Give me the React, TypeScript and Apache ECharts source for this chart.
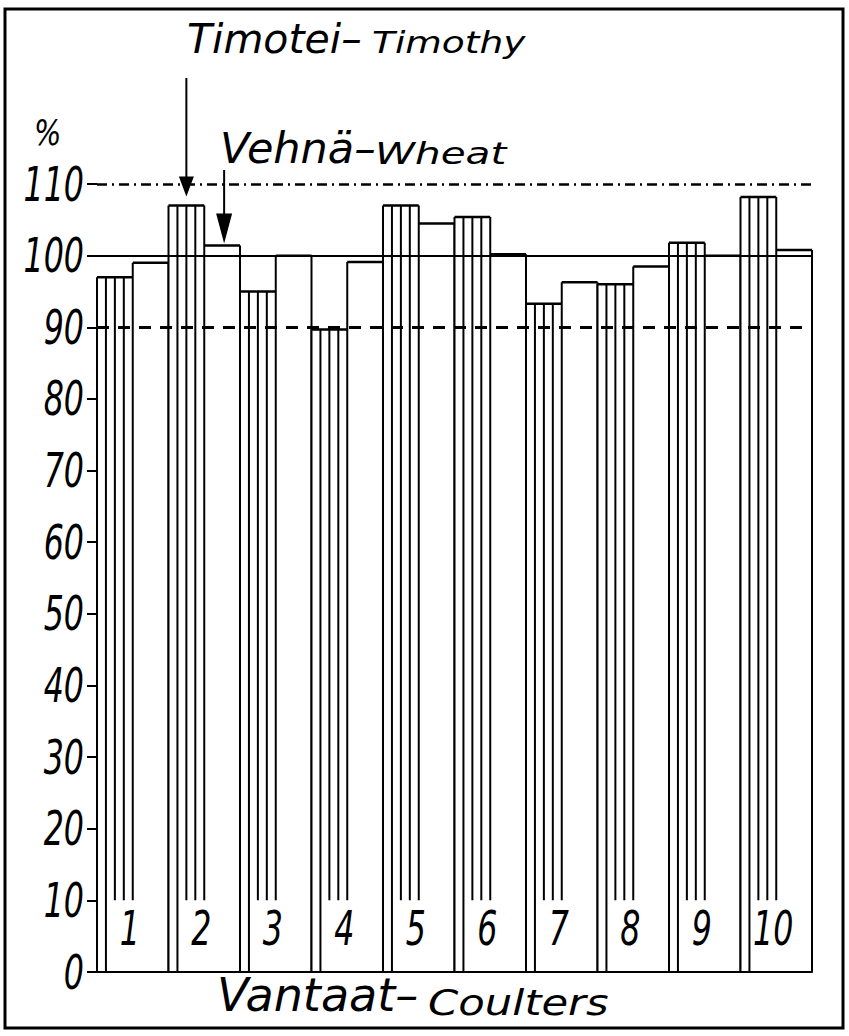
import React, { useEffect, useRef } from "react";
import * as echarts from "echarts";

// ---- data ----
const coulters = ["1", "2", "3", "4", "5", "6", "7", "8", "9", "10"];
const timothy = [97, 107, 95, 89.7, 107, 105.4, 93.3, 96, 101.8, 108.2];
const wheat = [99, 101.4, 100, 99.1, 104.5, 100.2, 96.3, 98.5, 100, 100.8];
const yMin = 0;
const yMax = 110;
const yInterval = 10;
const yTickValues = [0, 10, 20, 30, 40, 50, 60, 70, 80, 90, 100, 110];
const referenceLevels = [110, 100, 90];
const hatchFloor = 10; // hatch lines of the Timothy bars stop at this level
const categoryLabelLevel = 6.1; // coulter numbers sit inside the bars at this level
const annotatedIndex = 1; // coulter "2" carries the two arrows

const FONT = "'DejaVu Sans', 'Liberation Sans', sans-serif";

export default function App() {
  const ref = useRef<HTMLDivElement>(null);

  useEffect(() => {
    if (!ref.current) return;
    const chart = echarts.init(ref.current, undefined, { renderer: "svg" });

    const seriesData = coulters.map((c, i) => [i, timothy[i], wheat[i]]);

    const renderItem = (params: any, api: any) => {
      const i = api.value(0);
      const t = api.value(1);
      const w = api.value(2);
      const base = api.coord([i, 0]);
      const catW = api.size([1, 0])[0];
      const bw = catW / 2;
      const xL = base[0] - catW / 2;
      const xM = xL + bw;
      const xR = xL + catW;
      const y0 = base[1];
      const yT = api.coord([i, t])[1];
      const yW = api.coord([i, w])[1];
      const yF = api.coord([i, hatchFloor])[1];
      const stroke = { stroke: "#000", lineWidth: 2 };
      const children: any[] = [];

      children.push({ type: "rect", shape: { x: xL, y: yT, width: bw, height: y0 - yT }, style: { fill: "#fff" } });
      children.push({ type: "rect", shape: { x: xM, y: yW, width: bw, height: y0 - yW }, style: { fill: "#fff" } });

      for (let k = 0; k <= 4; k++) {
        const x = xL + (k * bw) / 4;
        const yStart = k === 4 ? Math.min(yT, yW) : yT;
        const yEnd = k < 2 ? y0 : yF;
        children.push({ type: "line", shape: { x1: x, y1: yStart, x2: x, y2: yEnd }, style: stroke });
      }
      children.push({ type: "line", shape: { x1: xL, y1: yT, x2: xM, y2: yT }, style: { stroke: "#000", lineWidth: 2.5 } });
      children.push({ type: "line", shape: { x1: xM, y1: yW, x2: xR, y2: yW }, style: { stroke: "#000", lineWidth: 2.5 } });
      children.push({ type: "line", shape: { x1: xR, y1: yW, x2: xR, y2: y0 }, style: stroke });

      if (i === annotatedIndex) {
        // Timothy arrow
        const xa = xL + bw / 2;
        const tipA = yT - 9;
        children.push({ type: "line", shape: { x1: xa, y1: 78, x2: xa, y2: tipA - 18 }, style: stroke });
        children.push({
          type: "polygon",
          shape: { points: [[xa - 7.5, tipA - 20], [xa + 7.5, tipA - 20], [xa, tipA]] },
          style: { fill: "#000" },
        });
        // Wheat arrow
        const xb = xM + bw / 2 + 2;
        const tipB = yW - 2;
        children.push({ type: "line", shape: { x1: xb, y1: 170, x2: xb, y2: tipB - 28 }, style: stroke });
        children.push({
          type: "polygon",
          shape: { points: [[xb - 8, tipB - 30], [xb + 8, tipB - 30], [xb, tipB]] },
          style: { fill: "#000" },
        });
      }
      return { type: "group", children };
    };

    const txt = (text: string, x: number, y: number, fontSize: number, scaleX: number, align = "left") => ({
      type: "text",
      x,
      y,
      scaleX,
      z: 50,
      style: {
        text,
        fill: "#000",
        fontSize,
        fontStyle: "italic",
        fontFamily: FONT,
        align,
        verticalAlign: "middle",
      },
    });

    const staticGraphics: any[] = [
      {
        type: "rect",
        shape: { x: 5, y: 9, width: 838, height: 1019 },
        style: { fill: "none", stroke: "#000", lineWidth: 3 },
        z: 100,
      },
      txt("%", 34, 133, 36, 0.8),
      txt("Timotei–", 187, 39, 41, 1.0),
      txt("Timothy", 372, 42, 30, 1.25),
      txt("Vehnä–", 220, 148, 43, 1.0),
      txt("Wheat", 375, 153, 30, 1.35),
      txt("Vantaat–", 217, 995, 46, 1.0),
      txt("Coulters", 428, 1003, 35, 1.24),
    ];

    const option: any = {
      animation: false,
      backgroundColor: "#fff",
      grid: { left: 97, right: 37, top: 184, bottom: 64 },
      xAxis: {
        type: "category",
        data: coulters,
        boundaryGap: true,
        axisLine: { show: true, lineStyle: { color: "#000", width: 2 } },
        axisTick: { show: false },
        splitLine: { show: false },
        axisLabel: { show: false },
        z: 10,
      },
      yAxis: {
        type: "value",
        min: yMin,
        max: yMax,
        interval: yInterval,
        axisLine: { show: false },
        axisTick: { show: true, length: 10, lineStyle: { color: "#000", width: 2 } },
        splitLine: { show: false },
        axisLabel: { show: false },
      },
      series: [
        {
          type: "custom",
          z: 2,
          data: seriesData,
          encode: { x: 0, y: [1, 2] },
          renderItem,
          markLine: {
            silent: true,
            symbol: ["none", "none"],
            z: 5,
            label: { show: false },
            data: referenceLevels.map((v) => ({
              yAxis: v,
              lineStyle: {
                color: "#000",
                width: v === 100 ? 2 : v === 90 ? 3 : 2.5,
                type: v === 100 ? "solid" : v === 90 ? [12, 9] : [10, 5, 2, 5],
              },
            })),
          },
        },
      ],
      graphic: staticGraphics,
    };

    chart.setOption(option);

    // axis labels in narrow technical lettering, placed through the axes' own scales
    const c0 = chart.convertToPixel({ xAxisIndex: 0 }, 0) as any;
    const c1 = chart.convertToPixel({ xAxisIndex: 0 }, 1) as any;
    const gridLeft = c0 - (c1 - c0) / 2;
    const yLabels = yTickValues.map((v) => {
      const py = chart.convertToPixel({ yAxisIndex: 0 }, v) as any;
      return txt(String(v), gridLeft - 13, py, 48, 0.66, "right");
    });
    const rowY = chart.convertToPixel({ yAxisIndex: 0 }, categoryLabelLevel) as any;
    const xLabels = coulters.map((c, i) => {
      const px = chart.convertToPixel({ xAxisIndex: 0 }, i) as any;
      return txt(c, px - 3, rowY, 48, 0.66, "center");
    });
    chart.setOption({ graphic: [...staticGraphics, ...yLabels, ...xLabels] });

    return () => chart.dispose();
  }, []);

  return (
    <div
      ref={ref}
      style={{ position: "absolute", left: 0, top: 0, width: 849, height: 1036, background: "#fff" }}
    />
  );
}
